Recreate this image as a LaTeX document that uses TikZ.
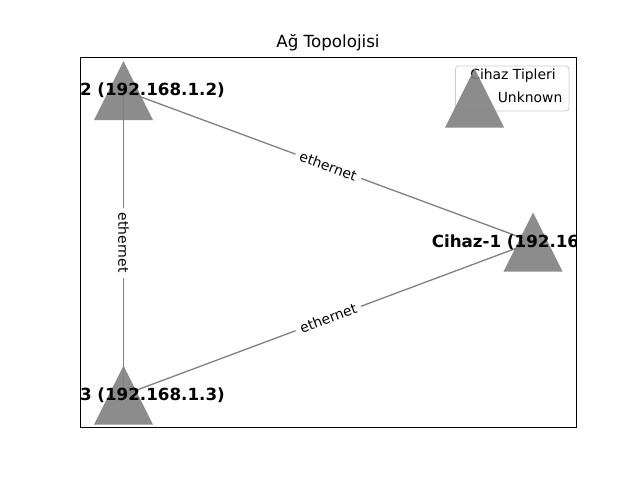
\documentclass[tikz,border=0pt]{standalone}
\usepackage{fontspec}
\setmainfont{DejaVu Sans}
\begin{document}
\begin{tikzpicture}[x=1pt,y=-1pt,
  edgeline/.style={draw=gray, line width=1.3pt},
  edgelabel/.style={fill=white, inner xsep=5pt, inner ysep=2pt, font=\fontsize{13.9}{16}\selectfont},
  nodelabel/.style={font=\fontsize{16.7}{19}\selectfont\bfseries, inner sep=0pt},
  marker/.style={fill=gray, fill opacity=0.9, draw=none}]
\useasboundingbox[fill=white] (0,0) rectangle (640,480);
\node[font=\fontsize{16.7}{19}\selectfont] (title) at (328,43) {Ağ Topolojisi};
\coordinate (n1) at (533,242);
\coordinate (n2) at (123.5,90.5);
\coordinate (n3) at (123.5,395);
\begin{scope}
\clip (80,57.6) rectangle (576,427.2);
\draw[edgeline] (n2) -- (n1) node[midway, sloped, edgelabel] (e21) {ethernet};
\draw[edgeline] (n3) -- (n1) node[midway, sloped, edgelabel] (e31) {ethernet};
\draw[edgeline] (n2) -- (n3) node[midway, edgelabel, rotate=-90] (e23) {ethernet};
\foreach \n in {n1,n2,n3}{
  \path[marker] (\n) ++(0,-29.5) -- ++(-29.5,59) -- ++(59,0) -- cycle;
}
\node[nodelabel] (l1) at (n1) {Cihaz-1 (192.168.1.1)};
\node[nodelabel] (l2) at (n2) {Cihaz-2 (192.168.1.2)};
\node[nodelabel] (l3) at (n3) {Cihaz-3 (192.168.1.3)};
\end{scope}
\draw[black, line width=0.8pt] (80,57.6) rectangle (576,427.2);
% legend
\draw[draw={rgb,255:red,204;green,204;blue,204}, fill=white, fill opacity=0.8, rounded corners=3pt, line width=0.8pt] (455.5,66) rectangle (569,111);
\node[font=\fontsize{13.9}{16}\selectfont, inner sep=0pt] (lt) at (513,75.5) {Cihaz Tipleri};
\node[font=\fontsize{13.9}{16}\selectfont, inner sep=0pt, anchor=east] (lu) at (562.5,97.5) {Unknown};
\coordinate (lh) at (474.5,98);
\path[marker] (lh) ++(0,-29.5) -- ++(-29.5,59) -- ++(59,0) -- cycle;
\end{tikzpicture}
\end{document}
